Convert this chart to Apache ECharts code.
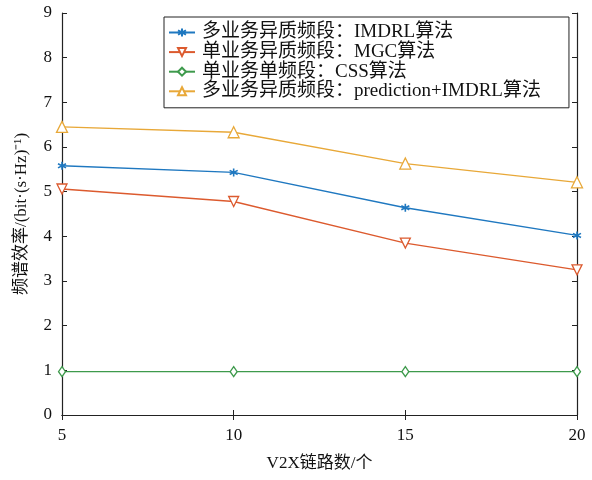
<!DOCTYPE html>
<html><head><meta charset="utf-8">
<script src="https://cdn.jsdelivr.net/npm/echarts@6/dist/echarts.min.js"></script>
<style>html,body{margin:0;padding:0;background:#fff}#c{width:592px;height:480px}</style>
</head><body><div id="c"></div>
<script>
const xValues = [5, 10, 15, 20];
const seriesNames = ['多业务异质频段：IMDRL算法', '单业务异质频段：MGC算法', '单业务单频段：CSS算法', '多业务异质频段：prediction+IMDRL算法'];
const imdrl = [5.58, 5.43, 4.64, 4.02];
const mgc = [5.06, 4.78, 3.85, 3.25];
const css = [0.97, 0.97, 0.97, 0.97];
const predImdrl = [6.45, 6.33, 5.63, 5.21];
const xTicks = [5, 10, 15, 20];
const yTicks = [0, 1, 2, 3, 4, 5, 6, 7, 8, 9];

const FONT = '"Liberation Serif","Noto Sans CJK SC",serif';
const colors = ['#1F78C0', '#DC5A2E', '#3E9A4C', '#E8A838'];
const symbols = [
  'path://M0,-5L0,5M-4.5,-2.6L4.5,2.6M-4.5,2.6L4.5,-2.6',
  'path://M-5,-4.5L5,-4.5L0,4.5Z',
  'path://M0,-5L3.5,0L0,5L-3.5,0Z',
  'triangle'
];
const sizes = [8, 10, [7, 10], 11];
const datasets = [imdrl, mgc, css, predImdrl];

const chart = echarts.init(document.getElementById('c'), null, {renderer: 'canvas'});
const axisCommon = {
  axisLine: {show: true, lineStyle: {color: '#222', width: 1.2}},
  axisTick: {show: true, inside: true, length: 5, lineStyle: {color: '#222'}},
  splitLine: {show: false}
};
chart.setOption({
  animation: false,
  backgroundColor: '#fff',
  grid: {left: 62, right: 15, top: 13, bottom: 65, containLabel: false},
  legend: {
    show: true,
    orient: 'vertical',
    left: 164, top: 17,
    itemWidth: 26, itemHeight: 10, itemGap: 0.6,
    padding: [6, 28, 7, 4],
    borderColor: '#222', borderWidth: 1, borderRadius: 0,
    backgroundColor: '#fff',
    textStyle: {fontFamily: FONT, fontSize: 19, lineHeight: 19, color: '#111', padding: [0, 0, 0, 2]},
    data: seriesNames
  },
  xAxis: [
    Object.assign({type: 'value', min: 5, max: 20, interval: 5,
      axisLabel: {fontFamily: FONT, fontSize: 17, color: '#111', margin: 12},
      name: 'V2X链路数/个', nameLocation: 'middle', nameGap: 40,
      nameTextStyle: {fontFamily: FONT, fontSize: 17, color: '#111'}}, axisCommon),
    Object.assign({type: 'value', position: 'top', min: 5, max: 20, interval: 5,
      axisLabel: {show: false}}, axisCommon)
  ],
  yAxis: [
    Object.assign({type: 'value', min: 0, max: 9, interval: 1,
      axisLabel: {fontFamily: FONT, fontSize: 17, color: '#111', margin: 10},
      name: '频谱效率/(bit·(s·Hz)⁻¹)', nameLocation: 'middle', nameGap: 32, nameRotate: 90,
      nameTextStyle: {fontFamily: FONT, fontSize: 17, color: '#111'}}, axisCommon),
    Object.assign({type: 'value', position: 'right', min: 0, max: 9, interval: 1,
      axisLabel: {show: false}}, axisCommon)
  ],
  series: datasets.map((d, i) => ({
    name: seriesNames[i],
    type: 'line',
    data: xValues.map((x, j) => [x, d[j]]),
    symbol: symbols[i],
    symbolSize: sizes[i],
    showSymbol: true,
    lineStyle: {color: colors[i], width: 1.3},
    itemStyle: {color: i === 0 ? colors[i] : '#fff', borderColor: colors[i], borderWidth: i === 0 ? 1.6 : 1.3},
    emphasis: {disabled: true}
  }))
});
</script></body></html>
